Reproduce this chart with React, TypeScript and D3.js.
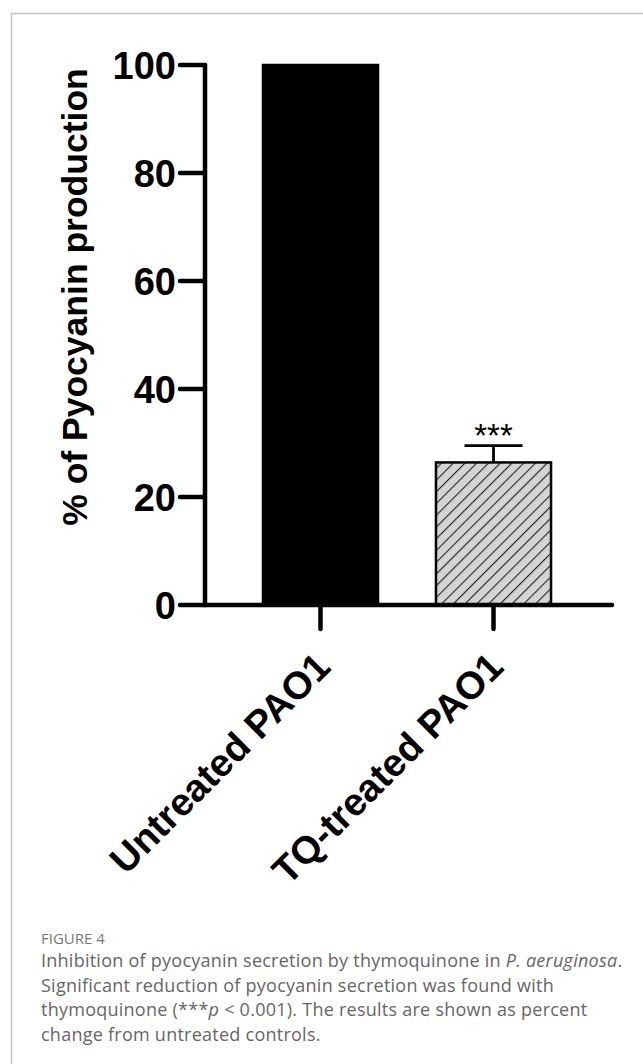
import React from 'react'
import * as d3 from 'd3'

// chart values
const categories = ['Untreated PAO1', 'TQ-treated PAO1']
const values = [100, 26.4]
const errors = [0, 3.1]
const marks = ['', '***']
const yTicks = [0, 20, 40, 60, 80, 100]

const captionLines = [
  ['Inhibition of pyocyanin secretion by thymoquinone in ', 'P. aeruginosa', '.'],
  ['Significant reduction of pyocyanin secretion was found with'],
  ['thymoquinone (***', 'p', ' < 0.001). The results are shown as percent'],
  ['change from untreated controls.'],
]

const W = 643
const H = 1064
const axisX = 205
const axisEnd = 612
const font = '"Liberation Sans", Arial, sans-serif'
const capFont = '"Open Sans", sans-serif'

const App = () => {
  const y = d3.scaleLinear().domain([0, 100]).range([605, 65])
  const x = d3.scaleBand().domain(categories).range([axisX, 609]).padding(0.335)
  const y0 = y(0)
  const mid = (c: string) => (x(c) as number) + x.bandwidth() / 2

  return (
    <svg width={W} height={H} style={{ position: 'absolute', left: 0, top: 0 }}>
      <defs>
        <pattern id="hatch" patternUnits="userSpaceOnUse" width={8.3} height={8.3} patternTransform="rotate(45)">
          <rect width={8.3} height={8.3} fill="#d4d4d4" />
          <line x1={0} y1={0} x2={0} y2={8.3} stroke="#222" strokeWidth={2.2} />
        </pattern>
      </defs>

      {/* frame */}
      <path d={`M11.5,${H} V13.5 H${W}`} fill="none" stroke="#c4c4c4" strokeWidth={1.5} />

      {/* bars */}
      {categories.map((c, i) => (
        <rect key={c}
          x={x(c)} y={y(values[i])}
          width={x.bandwidth()} height={y0 - y(values[i])}
          fill={i === 0 ? '#000' : 'url(#hatch)'}
          stroke="#000" strokeWidth={2.5} />
      ))}

      {/* error bars + significance */}
      {categories.map((c, i) => {
        if (!errors[i]) return null
        const cx = mid(c)
        const top = y(values[i] + errors[i])
        return (
          <g key={c} stroke="#000" strokeWidth={2.8}>
            <line x1={cx} x2={cx} y1={y(values[i])} y2={top} />
            <line x1={cx - 29} x2={cx + 29} y1={top} y2={top} />
            <text x={cx} y={top + 1} textAnchor="middle" stroke="none" fill="#000"
              fontFamily={font} fontSize={33}>{marks[i]}</text>
          </g>
        )
      })}

      {/* y axis */}
      <g stroke="#000" strokeWidth={4.5} strokeLinecap="round">
        <line x1={axisX} x2={axisX} y1={y(100)} y2={y0} />
        {yTicks.map(t => (
          <line key={t} x1={axisX - 25} x2={axisX} y1={y(t)} y2={y(t)} />
        ))}
      </g>
      {yTicks.map(t => (
        <text key={t} x={axisX - 29} y={y(t)} dy="0.36em" textAnchor="end"
          fontFamily={font} fontWeight="bold" fontSize={38}>{t}</text>
      ))}
      <text transform={`translate(87,297) rotate(-90)`} textAnchor="middle"
        fontFamily={font} fontWeight="bold" fontSize={35.5}>% of Pyocyanin production</text>

      {/* x axis */}
      <g stroke="#000" strokeWidth={4.5} strokeLinecap="round">
        <line x1={axisX} x2={axisEnd} y1={y0} y2={y0} />
        {categories.map(c => (
          <line key={c} x1={mid(c)} x2={mid(c)} y1={y0} y2={y0 + 24} />
        ))}
      </g>
      {categories.map(c => (
        <text key={c} transform={`translate(${mid(c) + 12},${y0 + 64}) rotate(-45)`} textAnchor="end"
          fontFamily={font} fontWeight="bold" fontSize={38.5}>{c}</text>
      ))}

      {/* caption */}
      <text x={41} y={944} fontFamily={capFont} fontSize={15} fill="#777">FIGURE 4</text>
      {captionLines.map((parts, li) => (
        <text key={li} x={41} y={967 + li * 24.5} fontFamily={capFont} fontSize={18}
          letterSpacing={0.25} fill="#666">
          {parts.map((p, k) => (
            <tspan key={k} fontStyle={k === 1 ? 'italic' : 'normal'}>{p}</tspan>
          ))}
        </text>
      ))}
    </svg>
  )
}

export default App
